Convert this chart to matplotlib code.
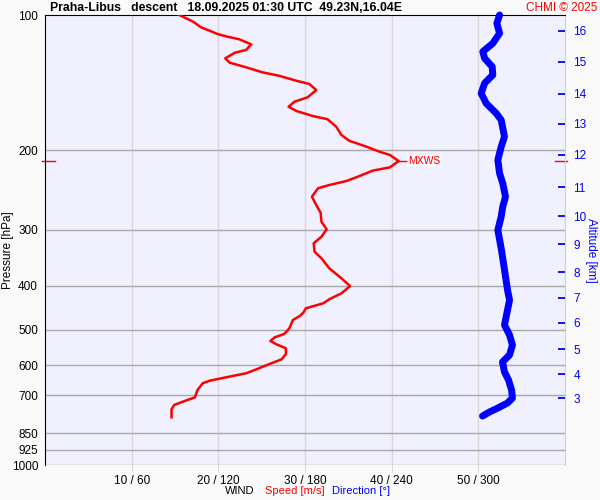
import matplotlib
matplotlib.use("Agg")
import matplotlib.pyplot as plt
import numpy as np

plt.rcParams['font.family'] = ['Liberation Sans', 'DejaVu Sans']

# wind speed profile [m/s] vs pressure [hPa]
speed_p = [100.0, 103.5, 106.5, 108.4, 110.2, 111.8, 113.2, 116.2, 119.6, 121.3,
           124.8, 127.6, 130.7, 134.1, 136.6, 140.0, 142.3, 146.8, 152.4, 155.8,
           159.9, 163.4, 167.7, 170.5, 177.1, 184.8, 190.3, 196.2, 201.3, 204.7,
           211.1, 218.0, 221.8, 227.9, 233.8, 238.7, 242.7, 253.4, 264.4, 275.0,
           288.0, 299.4, 310.9, 321.6, 335.7, 347.3, 365.5, 384.7, 400.2, 415.4,
           428.3, 437.2, 448.5, 458.7, 466.5, 476.2, 496.8, 511.5, 520.3, 530.2,
           539.2, 550.4, 566.7, 582.3, 596.4, 612.8, 625.5, 638.4, 649.7, 658.3,
           681.3, 707.2, 723.3, 735.6, 752.0, 783.4]
speed = [15.5, 17.1, 18.0, 19.0, 19.9, 21.1, 22.4, 23.8, 23.2, 21.9,
         20.8, 21.3, 23.2, 25.1, 27.1, 29.0, 30.5, 31.3, 30.3, 28.8,
         28.1, 29.0, 30.9, 32.6, 33.6, 34.2, 35.1, 37.1, 38.6, 39.8,
         40.8, 39.8, 37.8, 36.3, 34.8, 32.8, 31.5, 30.8, 31.3, 31.8,
         31.9, 32.5, 31.9, 31.0, 31.1, 31.9, 32.8, 34.2, 35.2, 34.2,
         32.8, 32.1, 30.1, 29.8, 29.4, 28.6, 28.2, 27.6, 26.5, 26.0,
         26.7, 27.8, 27.8, 27.3, 25.9, 24.4, 23.2, 20.9, 19.0, 18.2,
         17.6, 17.3, 15.9, 14.9, 14.6, 14.6]

# wind direction profile [deg] vs pressure [hPa]
dir_p = [100.0, 104.3, 109.8, 115.6, 120.6, 124.8, 130.3, 135.9, 141.8, 149.3,
         157.1, 165.4, 171.1, 186.4, 196.2, 210.0, 224.8, 236.6, 253.4, 266.7,
         280.7, 300.5, 332.8, 359.4, 408.4, 429.9, 464.2, 488.5, 514.2, 541.2,
         569.6, 590.4, 621.4, 647.4, 681.3, 710.0, 728.1, 747.1, 762.5, 778.4]
direction = [314.7, 312.8, 314.7, 310.0, 303.1, 304.3, 309.6, 310.0, 304.3, 302.0,
             305.4, 312.4, 315.8, 318.1, 315.8, 313.5, 314.7, 316.9, 318.8, 316.9,
             315.8, 313.5, 316.0, 317.6, 320.2, 321.6, 319.5, 318.1, 321.6, 323.6,
             321.6, 316.7, 318.1, 320.9, 323.0, 323.6, 320.2, 313.5, 307.7, 302.9]

p_ticks = [100, 200, 300, 400, 500, 600, 700, 850, 925, 1000]
x_ticks = [10, 20, 30, 40, 50]
x_labels = ['10 / 60', '20 / 120', '30 / 180', '40 / 240', '50 / 300']
alt_km = [16, 15, 14, 13, 12, 11, 10, 9, 8, 7, 6, 5, 4, 3]
alt_p = [108.5, 127.0, 149.8, 174.5, 204.3, 241.5, 279.7, 323.3, 372.5, 425.0,
         483.4, 552.6, 628.0, 710.6]
mxws_p = 211.1
mxws_speed = 40.8

fig = plt.figure(figsize=(6, 5), dpi=100, facecolor='#fafafa')
ax = fig.add_axes([0.075, 0.07, 0.8667, 0.9])
ax.set_facecolor('#f0f0ff')
ax.set_yscale('log')
ax.set_ylim(1000, 100)
ax.set_xlim(0, 60)

ax.set_yticks(p_ticks)
ax.set_yticklabels([str(p) for p in p_ticks])
ax.yaxis.set_minor_locator(matplotlib.ticker.NullLocator())
ax.tick_params(axis='y', length=0, pad=5, labelsize=8.5)
ax.set_xticks(x_ticks)
ax.set_xticklabels(x_labels)
ax.tick_params(axis='x', length=5, color='#d8d8d8', pad=2, labelsize=8.5)

for p in p_ticks[1:]:
    ax.axhline(p, color='#a8a8a8', lw=1, zorder=1)
for x in x_ticks:
    ax.axvline(x, color='#d8d8d8', lw=1, zorder=0.5)

ax.spines['left'].set_color('black')
ax.spines['top'].set_color('black')
ax.spines['bottom'].set_visible(False)
ax.spines['right'].set_color('#d0d0d0')

ax.plot(speed, speed_p, color='red', lw=1.8, zorder=3)
ax.plot(np.array(direction) / 6.0, dir_p, color='blue', lw=5, zorder=3,
        solid_capstyle='round', clip_on=False)

# max wind marker
ax.plot([mxws_speed, mxws_speed + 1.0], [mxws_p, mxws_p], color='red', lw=1)
ax.text(mxws_speed + 1.1, mxws_p, 'MXWS', color='red', fontsize=7.5,
        va='center', ha='left',
        bbox=dict(facecolor='white', edgecolor='none', alpha=0.6, pad=0.5))
ax.plot([-0.3, 1.1], [mxws_p, mxws_p], color='red', lw=1, clip_on=False)
ax.plot([58.8, 60.2], [mxws_p, mxws_p], color='red', lw=1, clip_on=False)

# altitude axis
ax2 = ax.twinx()
ax2.set_yscale('log')
ax2.set_ylim(1000, 100)
ax2.set_yticks(alt_p)
ax2.set_yticklabels([str(a) for a in alt_km])
ax2.yaxis.set_minor_locator(matplotlib.ticker.NullLocator())
ax2.tick_params(axis='y', direction='in', length=5, width=1.3, color='blue',
                labelcolor='blue', pad=6, labelsize=8.5)
for s in ax2.spines.values():
    s.set_visible(False)

fig.text(0.013, 0.5, 'Pressure [hPa]', rotation=90, va='center', ha='center',
         fontsize=8.5)
fig.text(0.985, 0.5, 'Altitude [km]', rotation=270, va='center', ha='center',
         fontsize=8.5, color='blue')

fig.text(0.083, 0.984, 'Praha-Libus   descent   18.09.2025 01:30 UTC  49.23N,16.04E',
         fontsize=8.8, fontweight='bold', va='center', ha='left')
fig.text(0.995, 0.984, 'CHMI \u00a9 2025', color='red', fontsize=8.5,
         va='center', ha='right')

fig.text(0.375, 0.018, 'WIND', fontsize=8, ha='left', va='center')
fig.text(0.442, 0.018, 'Speed [m/s]', fontsize=8, color='red', ha='left', va='center')
fig.text(0.553, 0.018, 'Direction [\u00b0]', fontsize=8, color='blue', ha='left', va='center')

fig.savefig('out.png', dpi=100, facecolor=fig.get_facecolor())
